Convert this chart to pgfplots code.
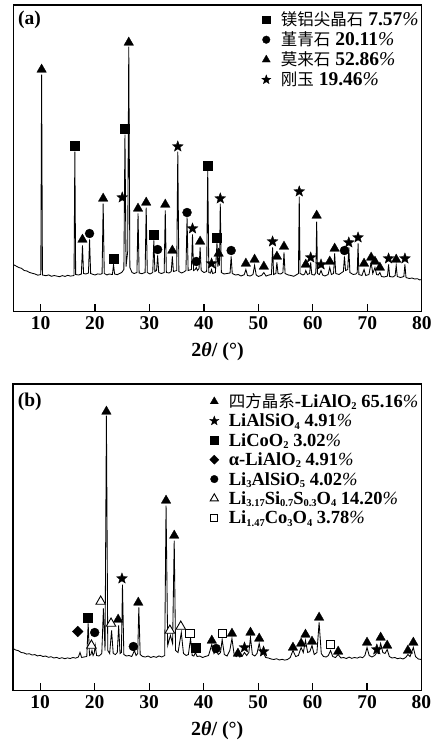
\documentclass[border=0pt]{standalone}
\usepackage{fontspec}
\setmainfont{Liberation Serif}
\newfontfamily\cjk{Noto Sans CJK SC}
\usepackage{pgfplots}
\pgfplotsset{compat=1.18}
\usetikzlibrary{plotmarks}

% filled five-pointed star
\pgfdeclareplotmark{fstar}{%
  \pgfpathmoveto{\pgfpointpolar{90}{\pgfplotmarksize}}%
  \pgfpathlineto{\pgfpointpolar{126}{0.42\pgfplotmarksize}}%
  \pgfpathlineto{\pgfpointpolar{162}{\pgfplotmarksize}}%
  \pgfpathlineto{\pgfpointpolar{198}{0.42\pgfplotmarksize}}%
  \pgfpathlineto{\pgfpointpolar{234}{\pgfplotmarksize}}%
  \pgfpathlineto{\pgfpointpolar{270}{0.42\pgfplotmarksize}}%
  \pgfpathlineto{\pgfpointpolar{306}{\pgfplotmarksize}}%
  \pgfpathlineto{\pgfpointpolar{342}{0.42\pgfplotmarksize}}%
  \pgfpathlineto{\pgfpointpolar{18}{\pgfplotmarksize}}%
  \pgfpathlineto{\pgfpointpolar{54}{0.42\pgfplotmarksize}}%
  \pgfpathclose
  \pgfusepathqfillstroke}

\newcommand{\pct}{\textnormal{\itshape\%}}
\newcommand{\zh}[1]{{\cjk\mdseries\fontsize{16.5}{18}\selectfont #1}}
\newcommand{\sub}[1]{\raisebox{-2.3pt}{\fontsize{10.5}{11}\selectfont #1}}

\pgfplotsset{
  xrd/.style={
    scale only axis, width=408.5pt, height=306.5pt,
    xmin=5, xmax=80, ymin=0, ymax=306.5,
    xtick={10,20,...,80}, ytick=\empty,
    xtick pos=bottom, tick align=inside, major tick length=8pt,
    axis line style={line width=1.2pt},
    tick style={line width=1.2pt, black},
    /pgf/number format/assume math mode=true,
    ticklabel style={font=\fontsize{19.5}{20}\selectfont\bfseries, inner sep=4.5pt},
    xlabel={2\textit{θ}/ (°)},
    xlabel style={at={(axis description cs:0.5,0)}, anchor=center, yshift=-40pt,
      font=\fontsize{20}{21}\selectfont\bfseries},
    legend cell align=left,
    legend style={draw=none, fill=none, inner sep=0pt, anchor=north west,
      font=\fontsize{19.5}{20}\selectfont\bfseries, column sep=10pt,
      nodes={inner xsep=0pt, inner ysep=0pt, text height=15pt, text depth=3pt}},
    legend image code/.code={\draw[##1,/tikz/every mark/.append style={scale=0.85}]
      plot coordinates {(0pt,0pt)};},
  },
  spec/.style={black, line width=0.85pt, forget plot, mark=none},
  msq/.style={only marks, mark=square*, mark size=4.5pt, mark options={fill=black, line width=0.3pt}},
  mci/.style={only marks, mark=*, mark size=4.5pt, mark options={fill=black, line width=0.3pt}},
  mtr/.style={only marks, mark=triangle*, mark size=5.5pt, mark options={fill=black, line width=0.3pt}},
  mst/.style={only marks, mark=fstar, mark size=5.7pt, mark options={fill=black, line width=0.3pt}},
  mdi/.style={only marks, mark=square*, mark size=3.8pt, mark options={fill=black, line width=0.3pt, rotate=45}},
  motr/.style={only marks, mark=triangle*, mark size=5.5pt, mark options={fill=white, line width=0.9pt}},
  mosq/.style={only marks, mark=square*, mark size=4.2pt, mark options={fill=white, line width=0.9pt}},
}

\begin{document}
\begin{tikzpicture}
% ---------------- (a) ----------------
\begin{axis}[xrd, at={(13.3pt,-5pt)}, anchor=north west,
  legend style={at={(0.6075,0.982)}, row sep=2pt}]
\addplot[spec] coordinates {
(5,47)(5.5,45.5)(6,44)(6.5,43.2)(7,41)(7.5,40.5)(8,39)(8.5,38.2)(9,37.5)(9.5,36.3)(10.05,37)(10.2,237)(10.35,36.5)
(11,35.8)(11.5,36.6)(12,35.2)(12.5,36)(13,35.4)(13.5,34.8)(14,35.9)(14.5,35.1)(15,36.2)(15.5,35.4)(16.15,36)(16.3,160)(16.45,37)
(17,36.5)(17.5,37.5)(17.7,66)(17.9,38)(18.3,37.5)(18.8,38.5)(19.0,72)(19.2,38)(19.7,37)(20,36.5)(20.5,37.6)(21,37.2)(21.3,38)(21.5,108)(21.7,38)
(22.2,36.6)(22.6,37.5)(23.2,37)(23.4,47)(23.6,37.5)(24.1,36.8)(24.5,38)(24.9,39)(25.3,42)(25.5,177)(25.7,45)(26.0,60)(26.2,265)(26.4,44)
(26.8,39)(27.2,38)(27.7,39)(27.9,98)(28.1,38.5)(28.6,37.8)(29.2,39)(29.4,104)(29.6,39)(30.1,37.5)(30.6,39)(30.8,71)(31.0,40)(31.3,41)(31.5,56)(31.7,39)
(32.2,38)(32.7,39)(32.9,101)(33.1,39)(33.6,38.5)(34.0,40)(34.2,55)(34.4,40)(35.0,41)(35.2,160)(35.4,40)(35.9,38.5)(36.3,39.5)(36.7,41)(36.9,94)(37.1,41)
(37.7,42)(37.9,77)(38.1,41)(38.4,42)(38.6,44)(38.8,41)(39.1,43)(39.3,64)(39.5,41)(40.0,39)(40.5,40)(40.7,141)(40.9,39)(41.2,38.5)(41.4,42)(41.6,38)
(42.1,39)(42.4,69)(42.55,45)(42.7,53)(42.85,46)(43.0,108)(43.2,39)(43.7,37.5)(44.2,38)(44.8,38.5)(45.0,55)(45.2,38)(45.8,36.5)(46.3,37)(46.8,35.5)
(47.4,36.8)(47.7,42)(48.0,36)(48.5,35.5)(49.0,37)(49.3,46)(49.6,36.5)(50.0,35)(50.6,36.2)(51.0,39)(51.4,35.4)(51.9,36.5)(52.4,37)(52.6,64)(52.8,37)
(53.2,38)(53.4,49)(53.6,38)(54.1,37.5)(54.5,39)(54.7,59)(54.9,38)(55.5,36.5)(56.0,36)(56.5,35.2)(57.0,36.8)(57.35,38)(57.5,115)(57.65,38)
(58.2,36.5)(58.5,37.5)(58.7,41)(59.0,37)(59.4,38)(59.6,49)(59.8,37)(60.3,36.5)(60.55,39)(60.7,90)(60.85,38)(61.2,37)(61.5,41)(61.8,36.5)
(62.2,35.5)(62.8,37)(63.1,44)(63.4,37)(63.8,38)(64.0,58)(64.2,38)(64.8,37)(65.2,38.5)(65.6,40)(65.8,55)(66.0,41)(66.4,42)(66.6,64)(66.8,39)
(67.4,37)(67.9,37.5)(68.15,39)(68.3,68)(68.45,37)(69.0,36)(69.4,42)(69.7,36)(70.3,37)(70.7,49)(71.0,38)(71.4,44)(71.7,37)(72.0,36.5)(72.3,39)(72.6,35)
(73.1,34.5)(73.7,35.5)(73.9,47)(74.1,35)(74.7,34.5)(75.1,36)(75.3,46)(75.5,35)(76.1,34)(76.7,35)(76.9,47)(77.1,34)(77.7,33)(78.2,33.5)(78.7,32.5)
(79.2,32.8)(79.6,31.6)(80,32)};
\addplot[msq] coordinates {(16.3,166)(25.4,183)(40.7,146)(23.4,53)(30.8,77)(42.4,74)};
\addplot[mci] coordinates {(19.0,78)(31.5,62)(36.9,99)(38.6,50)(45.0,61)(65.8,61)};
\addplot[mtr] coordinates {(10.2,242)(26.2,269)(17.7,72)(21.5,113)(27.9,103)(29.4,109)(32.9,107)(34.2,61)
  (39.3,70)(42.7,58)(47.7,48)(49.3,52)(51.0,45)(53.4,55)(54.7,65)(58.7,47)(60.7,96)(63.1,50)(64.0,63)
  (69.4,48)(70.7,54)(71.4,50)(72.3,44)(75.3,52)};
\addplot[mst] coordinates {(25.0,114)(35.2,165)(37.9,83)(41.4,48)(43.0,113)(52.6,70)(57.5,120)(59.6,54)
  (61.5,47)(66.6,69)(68.3,74)(73.9,53)(76.9,53)};
\addlegendentry{\zh{镁铝尖晶石} 7.57\pct}
\addlegendentry{\zh{堇青石} 20.11\pct}
\addlegendentry{\zh{莫来石} 52.86\pct}
\addlegendentry{\zh{刚玉} 19.46\pct}
\node[anchor=west, inner sep=0pt, font=\fontsize{19.5}{20}\selectfont\bfseries]
  at (rel axis cs:0.0115,0.951) {(a)};
\end{axis}
% ---------------- (b) ----------------
\begin{axis}[xrd, at={(13pt,-384pt)}, anchor=north west,
  legend style={at={(0.481,0.973)}, row sep=1.4pt, font=\fontsize{18.5}{19}\selectfont\bfseries}]
\addplot[spec] coordinates {
(5,42)(5.5,40.5)(6,39.8)(6.5,38)(7,37.6)(7.5,36.4)(8,36.8)(8.5,35.5)(9,35.9)(9.5,34.6)(10,35.2)(10.5,34)(11,34.5)(11.5,33.2)
(12,33.8)(12.5,32.5)(13,33.1)(13.5,32)(14,32.8)(14.5,31.8)(15,32.6)(15.5,32)(16,33)(16.5,32.4)(17,33.5)(17.3,38)(17.6,33)(18,33.5)
(18.55,34)(18.8,67)(19.05,35)(19.3,36)(19.5,40)(19.7,35)(19.9,37)(20.1,45)(20.35,35)(20.8,34.5)(21.3,37)(21.6,82)(21.9,40)(22.15,275)
(22.4,40)(22.75,37)(23.1,60)(23.4,37)(23.8,36)(24.15,38)(24.4,65)(24.65,37)(24.9,38)(25.1,106)(25.35,36)(25.8,34.5)(26.3,35)(26.8,34)
(27.3,40)(27.6,35)(27.9,37)(28.1,83)(28.35,36)(28.8,34)(29.3,33.5)(29.8,34.5)(30.3,33)(30.8,34)(31.3,33.2)(31.8,34.6)(32.3,33.5)(32.85,35)
(33.1,185)(33.4,45)(33.9,55)(34.3,47)(34.6,150)(34.85,40)(35.3,38)(35.9,58)(36.3,37)(36.8,35)(37.2,36)(37.6,52)(37.9,35)(38.2,34.5)
(38.5,38)(38.8,34)(39.3,34.5)(39.8,33)(40.3,34)(40.9,35)(41.5,46)(41.9,37)(42.3,40)(42.7,36)(43.1,38)(43.4,51)(43.8,36)(44.3,34.5)
(44.8,40)(45.2,52)(45.6,36)(46.0,34)(46.3,37)(46.6,33.5)(47.1,34.5)(47.5,38)(47.9,35)(48.3,38)(48.6,53)(48.95,36)(49.4,34.5)(49.8,37)
(50.2,47)(50.6,36)(51.0,37)(51.4,33)(51.9,32.5)(52.4,31.5)(52.9,31)(53.4,31.8)(53.9,30.5)(54.4,31.2)(54.9,30.4)(55.4,31)(55.9,33)
(56.4,40)(56.9,34)(57.4,35)(57.9,43)(58.3,38)(58.7,50)(59.1,38)(59.5,39)(59.9,45)(60.3,36)(60.8,38)(61.2,68)(61.6,37)(62.0,34)
(62.5,33.5)(62.9,35)(63.3,40)(63.7,34)(64.2,33)(64.7,36)(65.2,32.5)(65.7,33)(66.2,32)(66.7,33.4)(67.2,32.2)(67.7,33)(68.2,32.4)
(68.7,33.6)(69.2,32.8)(69.6,35)(70.0,43)(70.4,35)(70.9,33.5)(71.4,35)(71.8,38)(72.1,37)(72.5,47)(72.9,38)(73.3,37)(73.7,41)(74.1,34)
(74.6,32.5)(75.1,33)(75.6,31.8)(76.1,32.5)(76.6,31.5)(77.1,33)(77.5,36)(77.9,34)(78.5,43)(78.9,34)(79.4,31.5)(80,31)};
\addplot[mtr] coordinates {(22.15,279)(33.1,190)(34.6,155)(24.3,71)(28.0,88)(41.5,50)(45.2,57)(46.3,37)
  (48.6,58)(50.2,52)(56.4,43)(57.9,47)(58.7,56)(59.9,49)(61.2,73)(64.7,39)(70.0,48)(72.5,53)(73.7,45)
  (77.5,40)(78.5,48)};
\addplot[mst] coordinates {(25.0,112)(47.5,43)(51.0,39)(71.8,41)};
\addplot[msq] coordinates {(18.7,73)(38.5,43)};
\addplot[mdi] coordinates {(16.9,59)};
\addplot[mci] coordinates {(20.0,58)(27.1,44)(42.3,42)};
\addplot[motr] coordinates {(19.4,45)(21.1,89)(23.0,67)(33.8,60)(35.8,64)};
\addplot[mosq] coordinates {(37.5,57)(43.4,57)(63.3,46)};
\addlegendentry{\zh{四方晶系}-LiAlO\sub{2} 65.16\pct}
\addlegendentry{LiAlSiO\sub{4} 4.91\pct}
\addlegendentry{LiCoO\sub{2} 3.02\pct}
\addlegendentry{α-LiAlO\sub{2} 4.91\pct}
\addlegendentry{Li\sub{3}AlSiO\sub{5} 4.02\pct}
\addlegendentry{Li\sub{3.17}Si\sub{0.7}S\sub{0.3}O\sub{4} 14.20\pct}
\addlegendentry{Li\sub{1.47}Co\sub{3}O\sub{4} 3.78\pct}
\node[anchor=west, inner sep=0pt, font=\fontsize{19.5}{20}\selectfont\bfseries]
  at (rel axis cs:0.0115,0.942) {(b)};
\end{axis}
\pgfresetboundingbox
\path (0pt,0pt) rectangle (434pt,-740pt);
\end{tikzpicture}
\end{document}
